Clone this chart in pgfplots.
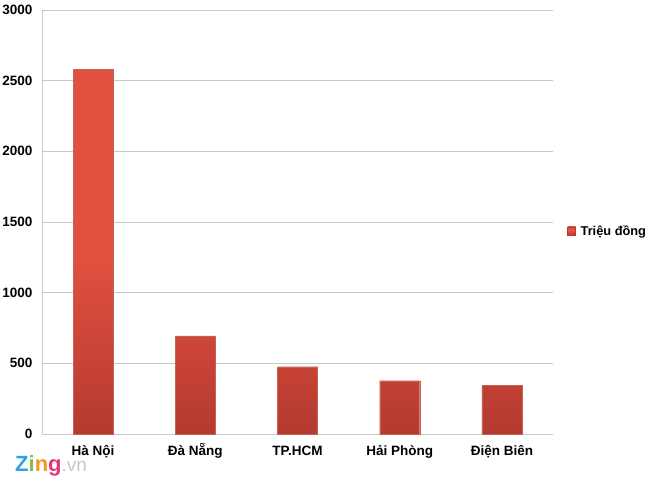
\documentclass[border=0pt]{standalone}
\usepackage{pgfplots}
\pgfplotsset{compat=1.18}
\usepackage{fontspec}
\setmainfont{Liberation Sans}
\definecolor{barred}{HTML}{E2513F}
\definecolor{bardark}{HTML}{B53A2F}
\definecolor{gridgray}{HTML}{C8C8C8}
\begin{document}
\begin{tikzpicture}[x=1pt,y=1pt]
\begin{axis}[
    at={(42pt,56pt)}, anchor=south west,
    scale only axis,
    width=511pt, height=424pt,
    xmin=-0.5, xmax=4.5,
    ymin=0, ymax=3000,
    ytick={0,500,...,3000},
    xtick={0,1,2,3,4},
    xticklabels={Hà Nội, Đà Nẵng, TP.HCM, Hải Phòng, Điện Biên},
    axis x line=bottom, axis y line=left,
    axis line style={gridgray, -},
    ymajorgrids, grid style={gridgray, line width=0.8pt},
    major tick length=0pt,
    /pgf/number format/assume math mode=true,
    /pgf/number format/1000 sep={},
    yticklabel style={font=\fontsize{13.5}{15}\selectfont\bfseries, text=black, xshift=-6pt},
    xticklabel style={font=\fontsize{13.5}{15}\selectfont\bfseries, text=black,
        text height=10pt, text depth=3pt, yshift=-8pt},
    legend style={at={(1.022,0.479)}, anchor=west, draw=none, fill=none,
        font=\fontsize{12.8}{14}\selectfont\bfseries},
    legend image code/.code={\fill[barred, draw=bardark] (0pt,-4pt) rectangle (8pt,4pt);
        \path[draw=none, fill=none] (0pt,0pt) rectangle (11pt,0pt);},
    clip=false,
]
\addplot[ybar, bar width=40pt, draw=bardark!80, top color=barred, bottom color=bardark,
    middle color=barred] coordinates {
    (0,2578) (1,694) (2,476) (3,377) (4,344)
};
\addlegendentry{Triệu đồng}
\end{axis}
\node[anchor=west, font=\fontsize{22}{24}\selectfont\bfseries, inner sep=0pt] at (15,24)
  {\textcolor[HTML]{2FA3E0}{Z}\textcolor[HTML]{7CC242}{i}\textcolor[HTML]{F39A1E}{n}\textcolor[HTML]{E8337A}{g}\textcolor[HTML]{C8C8C8}{\mdseries\fontsize{19}{21}\selectfont .vn}};
\pgfresetboundingbox
\path (0,0) rectangle (660,490);
\end{tikzpicture}
\end{document}
